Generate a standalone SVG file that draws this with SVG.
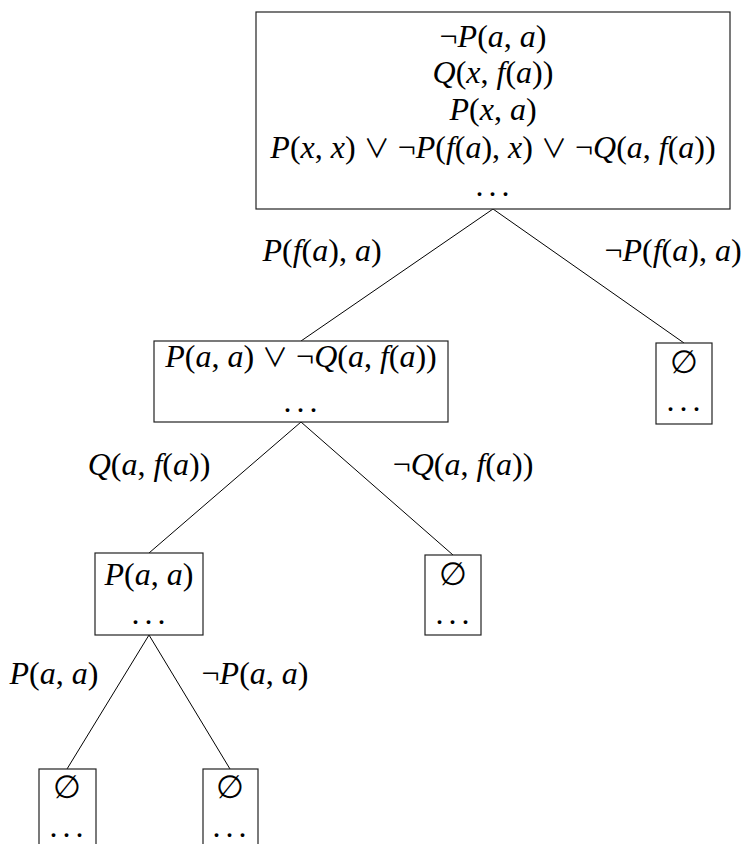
<svg xmlns="http://www.w3.org/2000/svg" width="745" height="844" viewBox="0 0 745 844">
<style>
text{font-family:"Liberation Serif","DejaVu Serif",serif;font-size:32px;fill:#000;text-anchor:middle}
.i{font-style:italic}
.or{font-family:"Noto Sans CJK JP","DejaVu Sans",sans-serif;font-weight:400;font-size:26px}
.box{fill:#fff;stroke:#222;stroke-width:1.2}
.edge{stroke:#000;stroke-width:1;fill:none}
.dots{letter-spacing:5px}
</style>
<rect width="745" height="844" fill="#fff"/>
<g id="edges">
<line class="edge" x1="493" y1="209" x2="301" y2="341"/>
<line class="edge" x1="493" y1="209" x2="684" y2="343"/>
<line class="edge" x1="301" y1="422" x2="149" y2="553"/>
<line class="edge" x1="301" y1="422" x2="453" y2="555"/>
<line class="edge" x1="149" y1="635" x2="67" y2="769"/>
<line class="edge" x1="149" y1="635" x2="230" y2="769"/>
</g>
<g id="labels">
<text x="322" y="261"><tspan class="i">P</tspan>(<tspan class="i">f</tspan>(<tspan class="i">a</tspan>), <tspan class="i">a</tspan>)</text>
<text x="673" y="261">¬<tspan class="i">P</tspan>(<tspan class="i">f</tspan>(<tspan class="i">a</tspan>), <tspan class="i">a</tspan>)</text>
<text x="149" y="475"><tspan class="i">Q</tspan>(<tspan class="i">a</tspan>, <tspan class="i">f</tspan>(<tspan class="i">a</tspan>))</text>
<text x="463" y="475">¬<tspan class="i">Q</tspan>(<tspan class="i">a</tspan>, <tspan class="i">f</tspan>(<tspan class="i">a</tspan>))</text>
<text x="54" y="684"><tspan class="i">P</tspan>(<tspan class="i">a</tspan>, <tspan class="i">a</tspan>)</text>
<text x="255" y="684">¬<tspan class="i">P</tspan>(<tspan class="i">a</tspan>, <tspan class="i">a</tspan>)</text>
</g>
<g id="n1">
<rect class="box" x="256" y="12" width="474" height="197"/>
<text x="493" y="47">¬<tspan class="i">P</tspan>(<tspan class="i">a</tspan>, <tspan class="i">a</tspan>)</text>
<text x="493" y="83"><tspan class="i">Q</tspan>(<tspan class="i">x</tspan>, <tspan class="i">f</tspan>(<tspan class="i">a</tspan>))</text>
<text x="493" y="120"><tspan class="i">P</tspan>(<tspan class="i">x</tspan>, <tspan class="i">a</tspan>)</text>
<text x="493" y="158"><tspan class="i">P</tspan>(<tspan class="i">x</tspan>, <tspan class="i">x</tspan>) <tspan class="or">∨</tspan> ¬<tspan class="i">P</tspan>(<tspan class="i">f</tspan>(<tspan class="i">a</tspan>), <tspan class="i">x</tspan>) <tspan class="or">∨</tspan> ¬<tspan class="i">Q</tspan>(<tspan class="i">a</tspan>, <tspan class="i">f</tspan>(<tspan class="i">a</tspan>))</text>
<text class="dots" x="495" y="196">...</text>
</g>
<g id="n2">
<rect class="box" x="154" y="341" width="294" height="81"/>
<text x="301" y="367"><tspan class="i">P</tspan>(<tspan class="i">a</tspan>, <tspan class="i">a</tspan>) <tspan class="or">∨</tspan> ¬<tspan class="i">Q</tspan>(<tspan class="i">a</tspan>, <tspan class="i">f</tspan>(<tspan class="i">a</tspan>))</text>
<text class="dots" x="303" y="412">...</text>
</g>
<g id="n3">
<rect class="box" x="656" y="343" width="56" height="81"/>
<text x="684" y="373">∅</text>
<text class="dots" x="686" y="411">...</text>
</g>
<g id="n4">
<rect class="box" x="95" y="553" width="108" height="82"/>
<text x="149" y="585"><tspan class="i">P</tspan>(<tspan class="i">a</tspan>, <tspan class="i">a</tspan>)</text>
<text class="dots" x="151" y="624">...</text>
</g>
<g id="n5">
<rect class="box" x="425" y="555" width="56" height="80"/>
<text x="453" y="585">∅</text>
<text class="dots" x="455" y="624">...</text>
</g>
<g id="n6">
<rect class="box" x="39" y="769" width="57" height="80"/>
<text x="67" y="798">∅</text>
<text class="dots" x="69" y="837">...</text>
</g>
<g id="n7">
<rect class="box" x="203" y="769" width="55" height="80"/>
<text x="230" y="798">∅</text>
<text class="dots" x="232" y="837">...</text>
</g>
</svg>
